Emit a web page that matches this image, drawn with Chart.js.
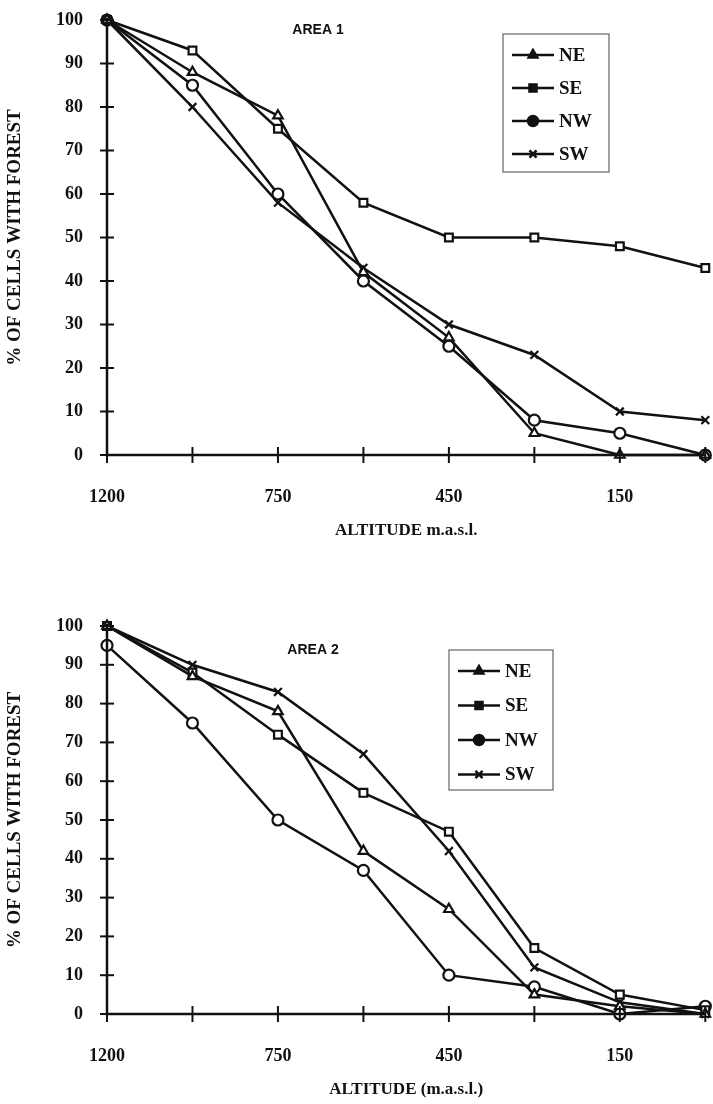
<!DOCTYPE html>
<html>
<head>
<meta charset="utf-8">
<script src="https://cdn.jsdelivr.net/npm/chart.js@4.4.0/dist/chart.umd.min.js"></script>
<style>
  body { margin: 0; background: #fff; }
  #wrap { position: relative; width: 713px; height: 1104px; }
  canvas { position: absolute; left: 0; }
  #c1 { top: 0; }
  #c2 { top: 560px; }
</style>
</head>
<body>
<div id="wrap">
  <canvas id="c1" width="713" height="545"></canvas>
  <canvas id="c2" width="713" height="544"></canvas>
</div>
<script>
// Altitude classes, only every second one labelled on the axis.
const xLabels = ['1200', '', '750', '', '450', '', '150', ''];
const yTicks = [0, 10, 20, 30, 40, 50, 60, 70, 80, 90, 100];
const seriesNames = ['NE', 'SE', 'NW', 'SW'];
const markers = ['triangle', 'rect', 'circle', 'crossRot'];

// Area 1
const area1NE = [100, 88, 78, 42, 27, 5, 0, 0];
const area1SE = [100, 93, 75, 58, 50, 50, 48, 43];
const area1NW = [100, 85, 60, 40, 25, 8, 5, 0];
const area1SW = [100, 80, 58, 43, 30, 23, 10, 8];

// Area 2
const area2NE = [100, 87, 78, 42, 27, 5, 2, 0];
const area2SE = [100, 88, 72, 57, 47, 17, 5, 1];
const area2NW = [95, 75, 50, 37, 10, 7, 0, 2];
const area2SW = [100, 90, 83, 67, 42, 12, 3, 0];

const serif = '"Liberation Serif", "DejaVu Serif", serif';
const sans = '"Liberation Sans", Arial, sans-serif';

// Axis lines with cross ticks, the area label and the boxed legend.
const decorPlugin = {
    id: 'decor',
    afterDraw(chart, args, opts) {
        const ctx = chart.ctx;
        const area = chart.chartArea;
        const xs = chart.scales.x;
        const ys = chart.scales.y;
        ctx.save();
        ctx.strokeStyle = '#111';
        ctx.lineWidth = 2.5;
        ctx.beginPath();
        ctx.moveTo(area.left, area.top - 2);
        ctx.lineTo(area.left, area.bottom);
        ctx.lineTo(area.right, area.bottom);
        ctx.stroke();
        ctx.lineWidth = 2;
        yTicks.forEach(v => {
            const y = ys.getPixelForValue(v);
            ctx.beginPath();
            ctx.moveTo(area.left - 7, y);
            ctx.lineTo(area.left + 7, y);
            ctx.stroke();
        });
        xLabels.forEach((l, i) => {
            const x = xs.getPixelForValue(i);
            ctx.beginPath();
            ctx.moveTo(x, area.bottom - 8);
            ctx.lineTo(x, area.bottom + 8);
            ctx.stroke();
        });

        // area label
        ctx.fillStyle = '#111';
        ctx.font = 'bold 14px ' + sans;
        ctx.textAlign = 'center';
        ctx.textBaseline = 'middle';
        ctx.fillText(opts.title, opts.titleX, opts.titleY);

        // legend
        const lg = opts.legend;
        ctx.lineWidth = 1;
        ctx.strokeStyle = '#444';
        ctx.strokeRect(lg.x, lg.y, lg.w, lg.h);
        ctx.font = 'bold 19px ' + serif;
        ctx.textAlign = 'left';
        seriesNames.forEach((name, i) => {
            const y = lg.y + 21 + i * lg.step;
            ctx.lineWidth = 2.5;
            ctx.strokeStyle = '#111';
            ctx.beginPath();
            ctx.moveTo(lg.x + 9, y);
            ctx.lineTo(lg.x + 51, y);
            ctx.stroke();
            Chart.helpers.drawPoint(ctx, {
                pointStyle: markers[i], radius: 5, rotation: 0, borderWidth: 2
            }, lg.x + 30, y);
            ctx.fillStyle = '#111';
            ctx.fill();
            ctx.fillText(name, lg.x + 56, y + 1);
        });
        ctx.restore();
    }
};

const makeDataset = (name, values, i) => ({
    label: name,
    data: values,
    borderColor: '#111',
    borderWidth: 2.5,
    pointStyle: markers[i],
    pointRadius: 5.5,
    pointBorderWidth: 2.2,
    pointBackgroundColor: '#fff',
    pointBorderColor: '#111',
    tension: 0
});

const makeChart = (id, values, xTitle, decor, topPad) => {
    new Chart(document.getElementById(id), {
        type: 'line',
        data: {
            labels: xLabels,
            datasets: seriesNames.map((n, i) => makeDataset(n, values[i], i))
        },
        options: {
            responsive: false,
            animation: false,
            devicePixelRatio: 1,
            clip: false,
            layout: { padding: { top: topPad, right: 5, left: 0, bottom: 0 } },
            plugins: {
                legend: { display: false },
                tooltip: { enabled: false },
                decor: decor
            },
            scales: {
                x: {
                    type: 'category',
                    offset: false,
                    grid: { display: false },
                    border: { display: false },
                    ticks: {
                        autoSkip: false,
                        maxRotation: 0,
                        padding: 24,
                        color: '#111',
                        font: { family: serif, size: 18, weight: 'bold' }
                    },
                    title: {
                        display: true,
                        text: xTitle,
                        color: '#111',
                        padding: { top: 8 },
                        font: { family: serif, size: 17, weight: 'bold' }
                    },
                    afterFit: s => { s.height = 90; s.paddingRight = 0; s.paddingLeft = 0; }
                },
                y: {
                    min: 0,
                    max: 100,
                    grid: { display: false },
                    border: { display: false },
                    ticks: {
                        stepSize: 10,
                        padding: 16,
                        color: '#111',
                        font: { family: serif, size: 18, weight: 'bold' }
                    },
                    title: {
                        display: true,
                        text: '% OF CELLS WITH FOREST',
                        color: '#111',
                        padding: { bottom: 4 },
                        font: { family: serif, size: 19, weight: 'bold' }
                    },
                    afterFit: s => { s.width = 107; s.paddingTop = 0; s.paddingBottom = 0; }
                }
            }
        },
        plugins: [decorPlugin]
    });
};

makeChart('c1', [area1NE, area1SE, area1NW, area1SW], 'ALTITUDE m.a.s.l.', {
    title: 'AREA 1', titleX: 318, titleY: 30,
    legend: { x: 503, y: 34, w: 106, h: 138, step: 33 }
}, 20);

makeChart('c2', [area2NE, area2SE, area2NW, area2SW], 'ALTITUDE (m.a.s.l.)', {
    title: 'AREA 2', titleX: 313, titleY: 90,
    legend: { x: 449, y: 90, w: 104, h: 140, step: 34.5 }
}, 66);
</script>
</body>
</html>
